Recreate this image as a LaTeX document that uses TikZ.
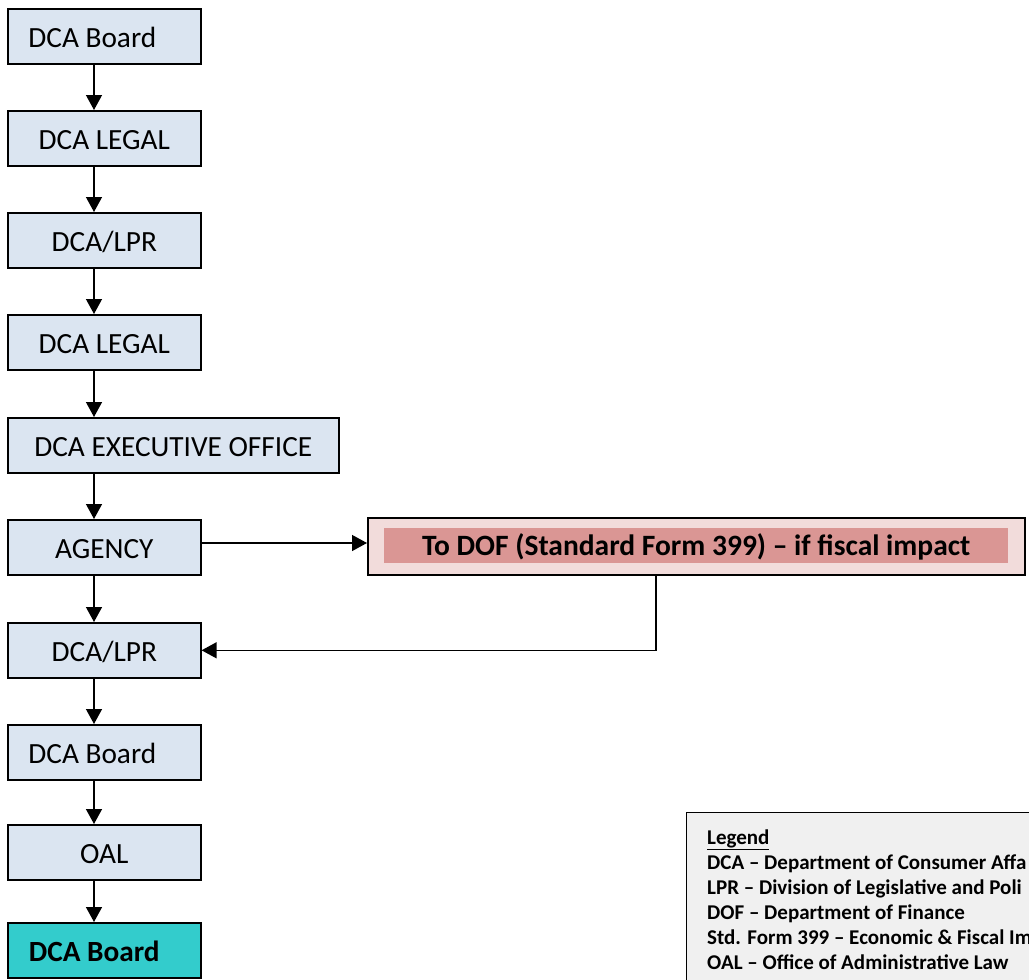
\documentclass[tikz,border=0pt]{standalone}
\usepackage{fontspec}
\setmainfont{Carlito}
\usetikzlibrary{arrows.meta}
\definecolor{boxblue}{RGB}{219,229,241}
\definecolor{boxteal}{RGB}{51,204,204}
\definecolor{dofouter}{RGB}{242,220,219}
\definecolor{dofinner}{RGB}{218,150,148}
\definecolor{legendgray}{RGB}{240,240,240}
\tikzset{
  flowbox/.style={draw=black, line width=1.6pt, fill=boxblue, anchor=north west,
    minimum width=193pt, minimum height=55pt, inner sep=0pt,
    text height=22pt, text depth=0pt, font=\fontsize{29.3}{33}\selectfont},
  arr/.style={line width=1.4pt, -{Triangle[length=15pt,width=16pt]}},
  legtext/.style={anchor=base west, inner sep=0pt, font=\fontsize{21}{24}\selectfont\bfseries}
}
\begin{document}
\begin{tikzpicture}[x=1pt,y=-1pt]
\useasboundingbox (0,0) rectangle (1029,980);
\fill[white] (0,0) rectangle (1029,980);
\coordinate (ax) at (94,0);
\coordinate (ay) at (0,543);
\coordinate (rx) at (656,0);

\node[flowbox] (b1) at (7,8) {DCA Board\kern24pt};
\node[flowbox] (b2) at (7,110) {DCA LEGAL};
\node[flowbox] (b3) at (7,212) {DCA/LPR};
\node[flowbox] (b4) at (7,314) {DCA LEGAL};
\node[flowbox, minimum width=331pt] (b5) at (7,417) {DCA EXECUTIVE OFFICE};
\node[flowbox] (b6) at (7,519) {AGENCY};
\node[flowbox] (b7) at (7,622) {DCA/LPR};
\node[flowbox] (b8) at (7,724) {DCA Board\kern24pt};
\node[flowbox] (b9) at (7,824) {OAL};
\node[flowbox, fill=boxteal, font=\fontsize{29.3}{33}\selectfont\bfseries] (b10) at (7,922) {DCA Board\kern20pt};

\node[draw=black, line width=1.6pt, fill=dofouter, anchor=north west,
  minimum width=657pt, minimum height=57pt, inner sep=0pt] (dof) at (367,517) {};
\node[fill=dofinner, anchor=north west, minimum width=624pt, minimum height=35pt,
  inner sep=0pt, text height=19pt, text depth=0pt,
  font=\fontsize{29.5}{32}\selectfont\bfseries] (dofin) at (384,528)
  {To DOF (Standard Form 399) – if fiscal impact};

\foreach \a/\b in {b1/b2,b2/b3,b3/b4,b4/b5,b5/b6,b6/b7,b7/b8,b8/b9,b9/b10}
  \draw[arr] (\a.south -| ax) -- (\b.north -| ax);
\draw[arr] (b6.east |- ay) -- (dof.west |- ay);
\draw[arr] (dof.south -| rx) |- (b7.east);

\node[draw=black, line width=1.4pt, fill=legendgray, anchor=north west,
  minimum width=400pt, minimum height=220pt, inner sep=0pt] (leg) at (686,812) {};
\node[legtext] (l0) at (707,844) {\underline{Legend}};
\node[legtext] (l1) at (707,869) {DCA – Department of Consumer Affa};
\node[legtext] (l2) at (707,894) {LPR – Division of Legislative and Poli};
\node[legtext] (l3) at (707,919) {DOF – Department of Finance};
\node[legtext] (l4) at (707,944) {Std. Form 399 – Economic \& Fiscal Im};
\node[legtext] (l5) at (707,969) {OAL – Office of Administrative Law};
\end{tikzpicture}
\end{document}
